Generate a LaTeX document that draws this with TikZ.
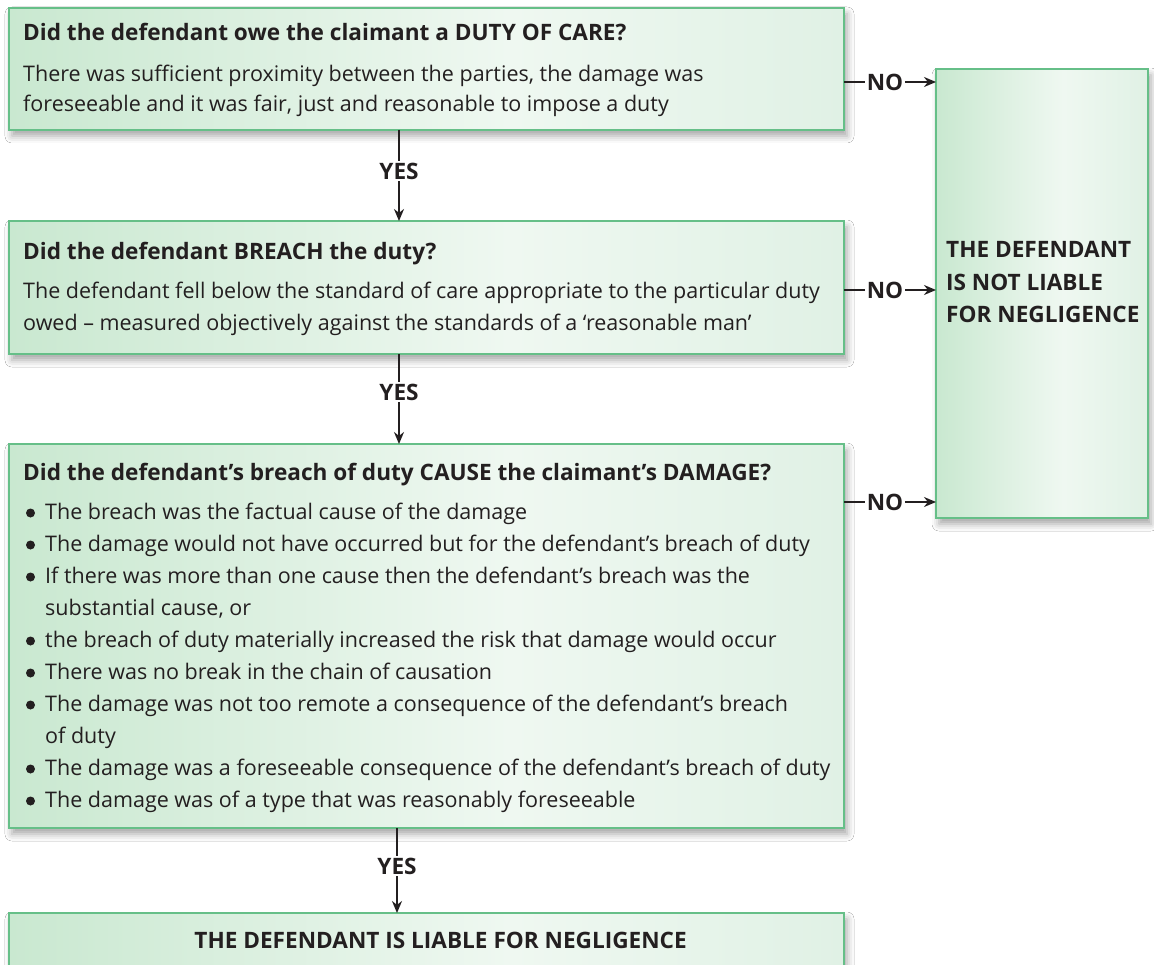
\documentclass[tikz,border=0pt]{standalone}
\usepackage{fontspec}
\setmainfont{Open Sans}
\usetikzlibrary{shadows.blur,arrows.meta,calc}

\definecolor{ink}{HTML}{231F20}
\definecolor{edge}{HTML}{66BF88}
\definecolor{gL}{HTML}{C9E8D0}
\definecolor{gM}{HTML}{EFF8F1}
\definecolor{gR}{HTML}{E0F1E5}
\pgfdeclarehorizontalshading{panelfill}{100bp}{color(0bp)=(gL); color(25bp)=(gL); color(55bp)=(gM); color(75bp)=(gR); color(100bp)=(gR)}

\tikzset{
  panelbox/.style={draw=edge, line width=1.6pt, shading=panelfill, outer sep=0pt,
    anchor=north west,
    blur shadow={shadow xshift=3pt, shadow yshift=-6pt, shadow blur radius=7pt, shadow opacity=35}},
  hd/.style={anchor=base west, inner sep=0pt, text=ink, font=\fontsize{22.6}{27}\selectfont\bfseries},
  tx/.style={anchor=base west, inner sep=0pt, text=ink, font=\fontsize{21.5}{27}\selectfont},
  lab/.style={inner sep=2pt, text=ink, font=\fontsize{22.6}{27}\selectfont\bfseries},
  link/.style={draw=ink, line width=1.8pt},
  linkarrow/.style={link, -{Stealth[length=12pt,width=10pt]}},
  dot/.style={fill=ink}
}

\begin{document}
\begin{tikzpicture}[x=1pt,y=-1pt]
\useasboundingbox (0,0) rectangle (1154,965);
\fill[white] (0,0) rectangle (1154,965);

% question panels
\node[panelbox, minimum width=835pt, minimum height=122pt] (b1) at (9,8) {};
\node[panelbox, minimum width=835pt, minimum height=133pt] (b2) at (9,221) {};
\node[panelbox, minimum width=835pt, minimum height=384pt] (b3) at (9,444) {};
% outcome panels
\node[panelbox, minimum width=212pt, minimum height=449pt] (nl) at (936,69) {};
\node[panelbox, minimum width=835pt, minimum height=80pt] (lb) at (9,913) {};

% duty of care
\node[hd] (h1) at (23,41) {Did the defendant owe the claimant a DUTY OF CARE?};
\node[tx] (t1a) at (23,82) {There was sufficient proximity between the parties, the damage was};
\node[tx] (t1b) at (23,112) {foreseeable and it was fair, just and reasonable to impose a duty};

% breach
\node[hd] (h2) at (23,260) {Did the defendant BREACH the duty?};
\node[tx] (t2a) at (23,299) {The defendant fell below the standard of care appropriate to the particular duty};
\node[tx] (t2b) at (23,331) {owed – measured objectively against the standards of a ‘reasonable man’};

% causation
\node[hd] (h3) at (23,480) {Did the defendant’s breach of duty CAUSE the claimant’s DAMAGE?};
\foreach \y/\txt [count=\i] in {
  519/{The breach was the factual cause of the damage},
  551/{The damage would not have occurred but for the defendant’s breach of duty},
  583/{If there was more than one cause then the defendant’s breach was the},
  647/{the breach of duty materially increased the risk that damage would occur},
  679/{There was no break in the chain of causation},
  711/{The damage was not too remote a consequence of the defendant’s breach},
  775/{The damage was a foreseeable consequence of the defendant’s breach of duty},
  807/{The damage was of a type that was reasonably foreseeable}}{
  \fill[dot] (30.5,\y-6) circle (4.5pt);
  \node[tx] (c\i) at (45,\y) {\txt};
}
\node[tx] (c3b) at (45,615) {substantial cause, or};
\node[tx] (c6b) at (45,743) {of duty};

% outcomes
\node[hd] (n1) at (946,258) {THE DEFENDANT};
\node[hd] (n2) at (946,291) {IS NOT LIABLE};
\node[hd] (n3) at (946,323) {FOR NEGLIGENCE};
\node[hd, anchor=base east] (l1) at (687,948) {THE DEFENDANT IS LIABLE FOR NEGLIGENCE};

% YES connectors
\node[lab] (y1) at (399,171) {YES};
\node[lab] (y2) at (399,392) {YES};
\node[lab] (y3) at (397,866) {YES};
\draw[link] (b1.south -| y1) -- (y1.north);
\draw[linkarrow] (y1.south) -- (b2.north -| y1);
\draw[link] (b2.south -| y2) -- (y2.north);
\draw[linkarrow] (y2.south) -- (b3.north -| y2);
\draw[link] (b3.south -| y3) -- (y3.north);
\draw[linkarrow] (y3.south) -- (lb.north -| y3);

% NO connectors
\node[lab] (o1) at (885,82) {NO};
\node[lab] (o2) at (885,290) {NO};
\node[lab] (o3) at (885,502) {NO};
\foreach \o/\b in {o1/b1, o2/b2, o3/b3}{
  \draw[link] (\b.east |- \o) -- (\o.west);
  \draw[linkarrow] (\o.east) -- (nl.west |- \o);
}
\end{tikzpicture}
\end{document}
